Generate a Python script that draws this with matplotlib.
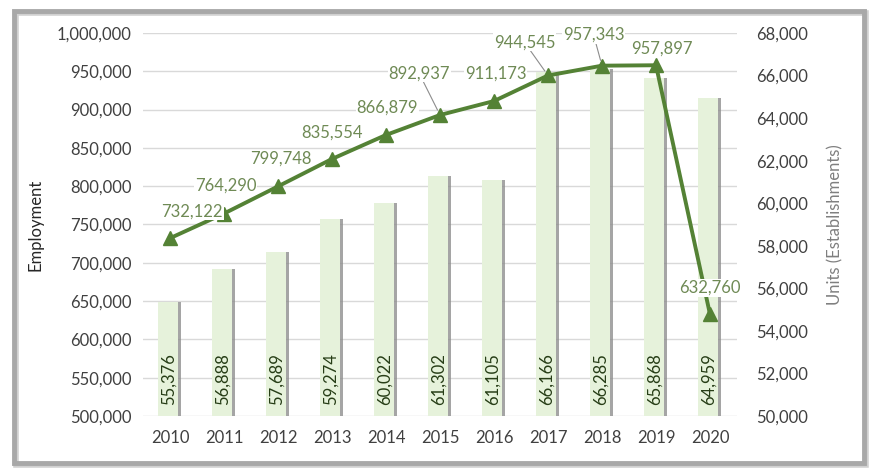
import numpy as np
from matplotlib import pyplot as plt
from matplotlib import patches

years = ['2010', '2011', '2012', '2013', '2014', '2015', '2016', '2017', '2018', '2019', '2020']
employment = [732122, 764290, 799748, 835554, 866879, 892937, 911173, 944545, 957343, 957897, 632760]
units = [55376, 56888, 57689, 59274, 60022, 61302, 61105, 66166, 66285, 65868, 64959]

# label offsets (points) for the employment labels
label_dx = [16, 1, 2, 0, 1, -15, 1, -17, -6, 4, 0]
label_dy = [19, 20, 20, 19, 20, 30, 20, 24, 22, 12, 19]
leader = [False, False, False, False, False, True, False, True, True, False, False]

plt.rcParams['font.family'] = ['Lato', 'DejaVu Sans']

line_color = '#548235'
label_color = '#6f8a55'
tick_color = '#404040'

fig = plt.figure(figsize=(8.7, 4.69), dpi=100)
ax1 = fig.add_axes([143 / 870, 53 / 469, 594 / 870, 383 / 469])
ax2 = ax1.twinx()
ax3 = ax1.twinx()

x = np.arange(len(years))

# grid axis (employment scale on the left)
ax1.set_ylim(500000, 1000000)
ax1.set_yticks(np.arange(500000, 1000001, 50000))
ax1.yaxis.set_major_formatter(plt.FuncFormatter(lambda v, p: f'{v:,.0f}'))
ax1.grid(axis='y', color='#d9d9d9', linewidth=1)
ax1.set_axisbelow(True)
ax1.set_xlim(-0.5, len(years) - 0.5)
ax1.set_xticks(x)
ax1.set_xticklabels(years)
ax1.tick_params(axis='both', length=0, labelsize=12, labelcolor=tick_color, pad=8)
ax1.tick_params(axis='x', pad=10)
ax1.set_ylabel('Employment', fontsize=12, color='#262626', labelpad=10)

# bars (units on the right), with a grey shadow strip on the right edge
ax2.bar(x + 0.17, units, width=0.07, color='#8f8f8f', alpha=0.8, zorder=1)
ax2.bar(x - 0.03, units, width=0.37, color='#e6f2db', zorder=2)
ax2.set_ylim(50000, 68000)
ax2.set_yticks(np.arange(50000, 68001, 2000))
ax2.yaxis.set_major_formatter(plt.FuncFormatter(lambda v, p: f'{v:,.0f}'))
ax2.tick_params(axis='y', length=0, labelsize=12, labelcolor=tick_color, pad=14)
ax2.set_ylabel('Units (Establishments)', fontsize=12, color='#7f7f7f', labelpad=14)
for i, u in enumerate(units):
    ax2.annotate(f'{u:,}', (x[i] - 0.03, 50000), xytext=(0, 8), textcoords='offset points',
                 rotation=90, ha='center', va='bottom', fontsize=12, color='#263d16')

# employment line
ax3.set_ylim(500000, 1000000)
ax3.yaxis.set_visible(False)
ax3.plot(x, employment, color=line_color, linewidth=2.8, marker='^', markersize=10, zorder=5)
for i, v in enumerate(employment):
    props = dict(arrowstyle='-', color='#8c8c8c', lw=0.8, shrinkA=0, shrinkB=4) if leader[i] else None
    ax3.annotate(f'{v:,}', (x[i], v), xytext=(label_dx[i], label_dy[i]), textcoords='offset points',
                 ha='center', va='center', fontsize=12, color=label_color,
                 bbox=dict(facecolor='white', edgecolor='none', pad=0.5),
                 arrowprops=props, zorder=6)

for ax in (ax1, ax2, ax3):
    for s in ax.spines.values():
        s.set_visible(False)
ax1.patch.set_visible(False)

# chart frame with a soft shadow
fig.patches.append(patches.Rectangle((16 / 870, 4 / 469), 850 / 870, 452 / 469,
                                     transform=fig.transFigure, fill=False,
                                     edgecolor='#d0d0d0', linewidth=4))
fig.patches.append(patches.Rectangle((14 / 870, 6 / 469), 850 / 870, 452 / 469,
                                     transform=fig.transFigure, fill=False,
                                     edgecolor='#a8a8a8', linewidth=3.5))

fig.savefig('out.png', dpi=100)
